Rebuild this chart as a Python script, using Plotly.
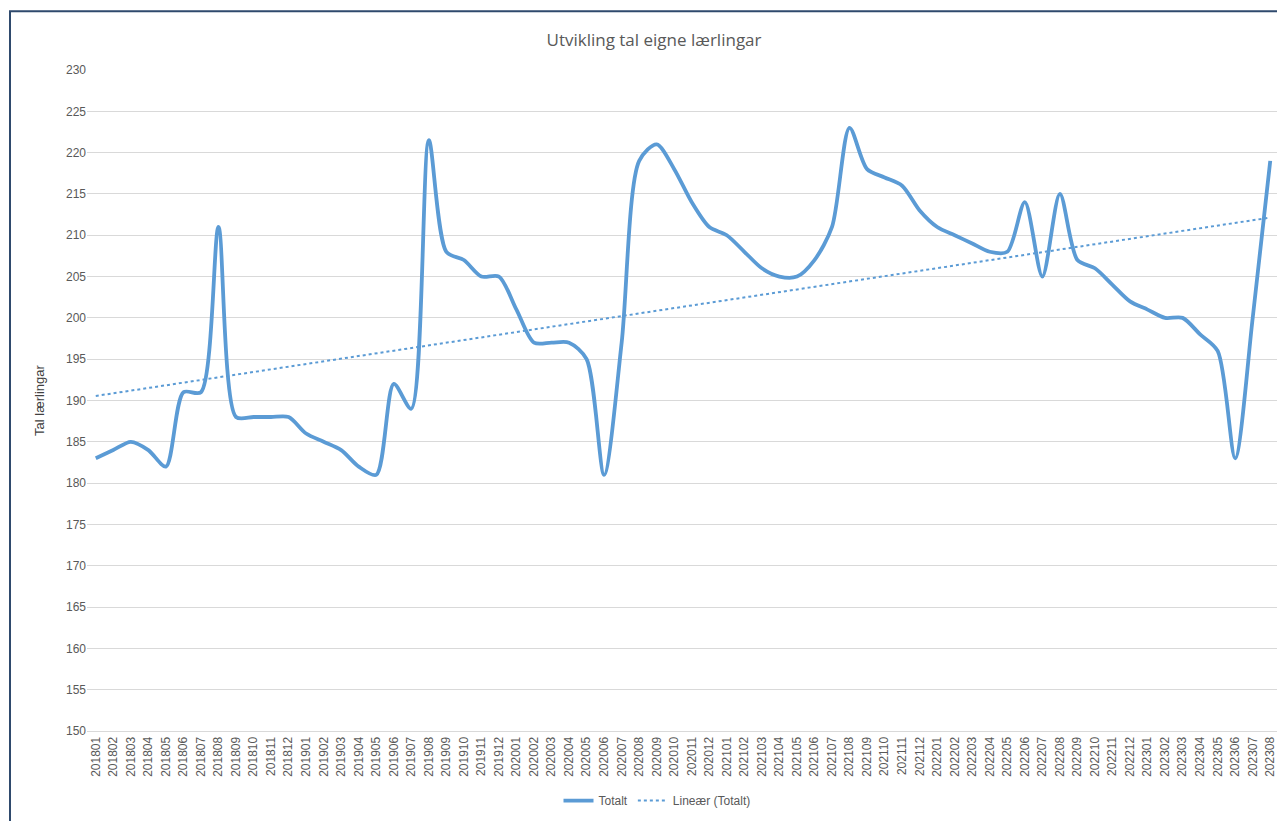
import numpy as np
import plotly.graph_objects as go

months = [f"{y}{m:02d}" for y in range(2018, 2024) for m in range(1, 13)][:68]
totalt = [183, 184, 185, 184, 182, 191, 191, 211, 188, 188, 188, 188,
          186, 185, 184, 182, 181, 192, 189, 221.5, 208, 207, 205, 205,
          201, 197, 197, 197, 195, 181, 197, 219, 221, 218, 214, 211,
          210, 208, 206, 205, 205, 207, 211, 223, 218, 217, 216, 213,
          211, 210, 209, 208, 208, 214, 205, 215, 207, 206, 204, 202,
          201, 200, 200, 198, 196, 183, 200, 219]

idx = np.arange(len(totalt))
slope, intercept = np.polyfit(idx, totalt, 1)
trend = slope * idx + intercept

# page body has an 8px margin, so the figure is drawn 8px lower and further right
W, H = 1277, 813
L, R, T, B = 79, 6, 62, 86
PW, PH = W - L - R, H - T - B

fig = go.Figure()
fig.add_trace(go.Scatter(x=months, y=totalt, mode="lines", name="Totalt",
                         line=dict(color="#5B9BD5", width=3.8, shape="spline", smoothing=0.8)))
fig.add_trace(go.Scatter(x=months, y=trend, mode="lines", name="Lineær (Totalt)",
                         line=dict(color="#5B9BD5", width=2, dash="dot")))

fig.update_layout(
    width=W, height=H,
    margin=dict(l=L, r=R, t=T, b=B),
    paper_bgcolor="white", plot_bgcolor="white",
    title=dict(text="Utvikling tal eigne lærlingar", x=(654 - 8) / W, xanchor="center",
               y=1 - 32 / H, yanchor="middle",
               font=dict(family="Open Sans, Liberation Sans, Arial", size=17, color="#595959")),
    font=dict(family="Liberation Sans, Arial", color="#595959"),
    xaxis=dict(type="category", range=[-0.5, len(months) - 0.5], tickangle=-90,
               tickfont=dict(size=12, color="#595959"), showgrid=False,
               showline=True, linecolor="#D9D9D9", linewidth=1, ticks=""),
    yaxis=dict(range=[150, 230], dtick=5, tickfont=dict(size=12, color="#595959"),
               gridcolor="#D9D9D9", gridwidth=1, zeroline=False, ticks="",
               title=dict(text="Tal lærlingar", font=dict(size=13, color="#404040"), standoff=18)),
    legend=dict(orientation="h", x=(657 - 8 - L) / PW, xanchor="center",
                y=(T + PH - (805 - 8)) / PH, yanchor="middle",
                font=dict(size=12, color="#595959")),
    shapes=[dict(type="rect", xref="paper", yref="paper",
                 x0=(2 - L) / PW, x1=1.2, y0=-0.3, y1=(T + PH - 3) / PH,
                 line=dict(color="#2F4A6D", width=2), fillcolor="rgba(0,0,0,0)", layer="below")],
)

fig.write_html("out.html")
